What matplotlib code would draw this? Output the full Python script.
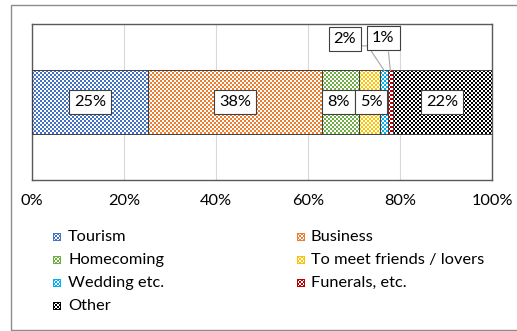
import numpy as np
import matplotlib
matplotlib.use("Agg")
import matplotlib.pyplot as plt
from matplotlib.patches import Rectangle
from matplotlib.colors import to_rgb

# données (part en %)
categories = ["Tourism", "Business", "Homecoming", "To meet friends / lovers",
              "Wedding etc.", "Funerals, etc.", "Other"]
values = [25.2, 37.8, 8.1, 4.6, 1.7, 1.0, 21.6]
labels = ["25%", "38%", "8%", "5%", "2%", "1%", "22%"]
colors = ["#4472C4", "#ED7D31", "#70AD47", "#FFC000", "#00B0F0", "#C00000", "#000000"]
xticks = [0, 20, 40, 60, 80, 100]

plt.rcParams["font.family"] = ["Lato", "DejaVu Sans"]
FS = 11.8
W, H = 517, 331
fig = plt.figure(figsize=(W / 100, H / 100), dpi=100)
ax = fig.add_axes([32 / W, 1 - 180 / H, 460 / W, 156 / H])
ax.set_xlim(0, 100)
ax.set_ylim(-0.5, 0.5)


def checker(patch, color):
    # motif damier 2px comme dans Excel
    bb = patch.get_window_extent(fig.canvas.get_renderer())
    nx = max(1, int(round(bb.width / 2)))
    ny = max(1, int(round(bb.height / 2)))
    m = np.indices((ny, nx)).sum(axis=0) % 2
    c = np.array(to_rgb(color))
    img = np.where(m[..., None] == 1, c, np.ones(3))
    x0, y0 = patch.get_x(), patch.get_y()
    im = ax.imshow(img, extent=(x0, x0 + patch.get_width(), y0, y0 + patch.get_height()),
                   aspect="auto", interpolation="nearest", zorder=2)
    im.set_clip_path(patch)


left = 0
bars = []
for v, c in zip(values, colors):
    b = ax.barh(0, v, left=left, height=0.404, color="white", zorder=1.5)[0]
    bars.append(b)
    left += v
for b, c in zip(bars, colors):
    checker(b, c)
    ax.add_patch(Rectangle((b.get_x(), b.get_y()), b.get_width(), b.get_height(),
                           fill=False, edgecolor="#404040", lw=0.7, zorder=3))
ax.set_xlim(0, 100)
ax.set_ylim(-0.5, 0.5)

# étiquettes
box = dict(boxstyle="square,pad=0.3", fc="white", ec="#404040", lw=0.8)
for i, (b, lab) in enumerate(zip(bars, labels)):
    cx = b.get_x() + b.get_width() / 2
    if i == 4:
        ax.text(68.0, 0.405, lab, ha="center", va="center", fontsize=FS, bbox=box, zorder=5)
        ax.plot([71.0, 73.0, cx], [0.36, 0.36, 0.202], color="#a6a6a6", lw=0.8, zorder=4)
    elif i == 5:
        ax.text(76.4, 0.41, lab, ha="center", va="center", fontsize=FS, bbox=box, zorder=5)
        ax.plot([77.5, cx], [0.32, 0.202], color="#a6a6a6", lw=0.8, zorder=4)
    else:
        if i == 2:
            cx -= 0.4
        if i == 3:
            cx += 0.3
        ax.text(cx, 0, lab, ha="center", va="center", fontsize=FS, bbox=box, zorder=5)

ax.set_xticks(xticks)
ax.set_xticklabels([f"{t}%" for t in xticks], fontsize=FS)
ax.set_yticks([])
ax.tick_params(axis="x", length=0, pad=10)
ax.grid(axis="x", color="#d9d9d9", lw=0.8, zorder=0)
for s in ax.spines.values():
    s.set_color("#595959")
    s.set_linewidth(1)

# légende manuelle, ordre en lignes
rows = [237, 260, 283, 306]
colx = [(53, 68), (297, 311)]
for i, (cat, c) in enumerate(zip(categories, colors)):
    r, k = divmod(i, 2)
    mx, tx = colx[k]
    y = rows[r]
    m = (np.indices((8, 8)) // 2).sum(axis=0) % 2
    m[0, :] = m[-1, :] = m[:, 0] = m[:, -1] = 0
    img = np.where(m[..., None] == 0, np.array(to_rgb(c)), np.ones(3))
    img = np.dstack([img, np.ones((8, 8))])
    fig.figimage(img, xo=mx, yo=H - y - 4, zorder=3)
    fig.text(tx / W, 1 - y / H, cat, ha="left", va="center", fontsize=FS)

# cadre extérieur
fig.patches.append(Rectangle((11 / W, 1 - 330 / H), 1.2, 325 / H, transform=fig.transFigure,
                             fill=False, edgecolor="#8c8c8c", lw=1))

fig.savefig("out.png", dpi=100)
